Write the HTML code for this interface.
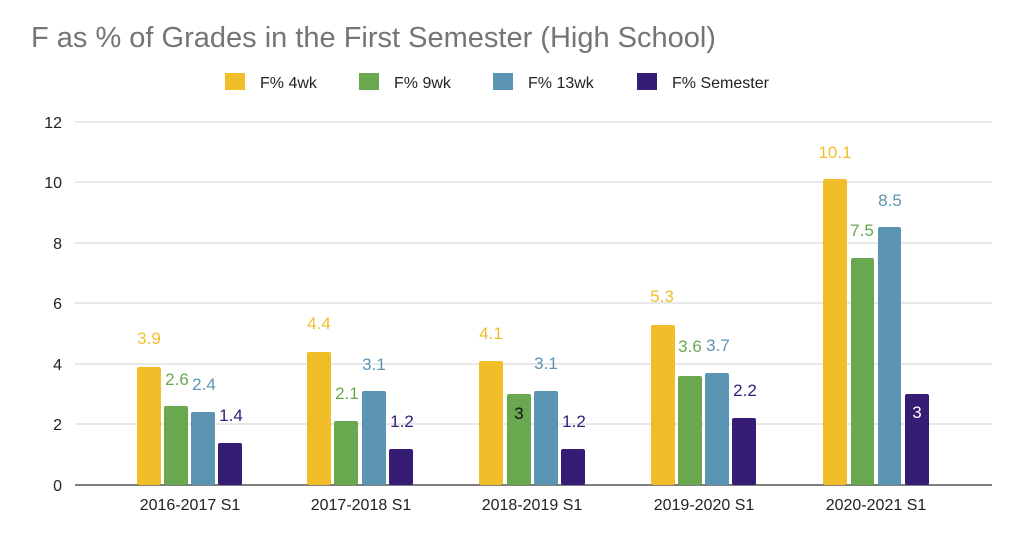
<!DOCTYPE html>
<html><head><meta charset="utf-8"><style>body{margin:0;background:#fff}svg{display:block}</style></head><body>
<svg width="1024" height="541" xmlns="http://www.w3.org/2000/svg" font-family="Liberation Sans, sans-serif">
<text x="31" y="47" font-size="29" fill="#757575">F as % of Grades in the First Semester (High School)</text>
<g font-size="16" fill="#222">
<rect x="225" y="73" width="20" height="17" fill="#F1BE2A"/><text x="260" y="88">F% 4wk</text>
<rect x="359" y="73" width="20" height="17" fill="#6AA84F"/><text x="394" y="88">F% 9wk</text>
<rect x="493" y="73" width="20" height="17" fill="#5B95B3"/><text x="528" y="88">F% 13wk</text>
<rect x="637" y="73" width="20" height="17" fill="#351C75"/><text x="672" y="88">F% Semester</text>
</g>
<g stroke="#d9d9d9" stroke-width="1.2">
<line x1="75" x2="992" y1="122" y2="122"/><line x1="75" x2="992" y1="182" y2="182"/><line x1="75" x2="992" y1="243" y2="243"/><line x1="75" x2="992" y1="303" y2="303"/><line x1="75" x2="992" y1="364" y2="364"/><line x1="75" x2="992" y1="424" y2="424"/>
</g>
<line x1="75" x2="992" y1="485" y2="485" stroke="#333" stroke-width="1.3"/>
<g font-size="16" fill="#222" text-anchor="end">
<text x="62" y="128">12</text><text x="62" y="188">10</text><text x="62" y="249">8</text><text x="62" y="309">6</text><text x="62" y="370">4</text><text x="62" y="430">2</text><text x="62" y="491">0</text>
</g>
<g font-size="16" fill="#222" text-anchor="middle">
<text x="190" y="510">2016-2017 S1</text><text x="361" y="510">2017-2018 S1</text><text x="532" y="510">2018-2019 S1</text><text x="704" y="510">2019-2020 S1</text><text x="876" y="510">2020-2021 S1</text>
</g>
<g>
<rect x="137" y="367" width="24" height="118" rx="2" fill="#F1BE2A"/><rect x="164" y="406" width="24" height="79" rx="2" fill="#6AA84F"/><rect x="191" y="412" width="24" height="73" rx="2" fill="#5B95B3"/><rect x="218" y="443" width="24" height="42" rx="2" fill="#351C75"/>
<rect x="307" y="352" width="24" height="133" rx="2" fill="#F1BE2A"/><rect x="334" y="421" width="24" height="64" rx="2" fill="#6AA84F"/><rect x="362" y="391" width="24" height="94" rx="2" fill="#5B95B3"/><rect x="389" y="449" width="24" height="36" rx="2" fill="#351C75"/>
<rect x="479" y="361" width="24" height="124" rx="2" fill="#F1BE2A"/><rect x="507" y="394" width="24" height="91" rx="2" fill="#6AA84F"/><rect x="534" y="391" width="24" height="94" rx="2" fill="#5B95B3"/><rect x="561" y="449" width="24" height="36" rx="2" fill="#351C75"/>
<rect x="651" y="325" width="24" height="160" rx="2" fill="#F1BE2A"/><rect x="678" y="376" width="24" height="109" rx="2" fill="#6AA84F"/><rect x="705" y="373" width="24" height="112" rx="2" fill="#5B95B3"/><rect x="732" y="418" width="24" height="67" rx="2" fill="#351C75"/>
<rect x="823" y="179" width="24" height="306" rx="2" fill="#F1BE2A"/><rect x="851" y="258" width="23" height="227" rx="2" fill="#6AA84F"/><rect x="878" y="227" width="23" height="258" rx="2" fill="#5B95B3"/><rect x="905" y="394" width="24" height="91" rx="2" fill="#351C75"/>
</g>
<g font-size="17" text-anchor="middle">
<text x="149" y="344" fill="#F1BE2A">3.9</text><text x="177" y="385" fill="#6AA84F">2.6</text><text x="204" y="390" fill="#5B95B3">2.4</text><text x="231" y="421" fill="#351C75">1.4</text>
<text x="319" y="329" fill="#F1BE2A">4.4</text><text x="347" y="399" fill="#6AA84F">2.1</text><text x="374" y="370" fill="#5B95B3">3.1</text><text x="402" y="427" fill="#351C75">1.2</text>
<text x="491" y="339" fill="#F1BE2A">4.1</text><text x="519" y="419" fill="#111">3</text><text x="546" y="369" fill="#5B95B3">3.1</text><text x="574" y="427" fill="#351C75">1.2</text>
<text x="662" y="302" fill="#F1BE2A">5.3</text><text x="690" y="352" fill="#6AA84F">3.6</text><text x="718" y="351" fill="#5B95B3">3.7</text><text x="745" y="396" fill="#351C75">2.2</text>
<text x="835" y="158" fill="#F1BE2A">10.1</text><text x="862" y="236" fill="#6AA84F">7.5</text><text x="890" y="206" fill="#5B95B3">8.5</text><text x="917" y="418" fill="#fff">3</text>
</g>
</svg>
</body></html>
